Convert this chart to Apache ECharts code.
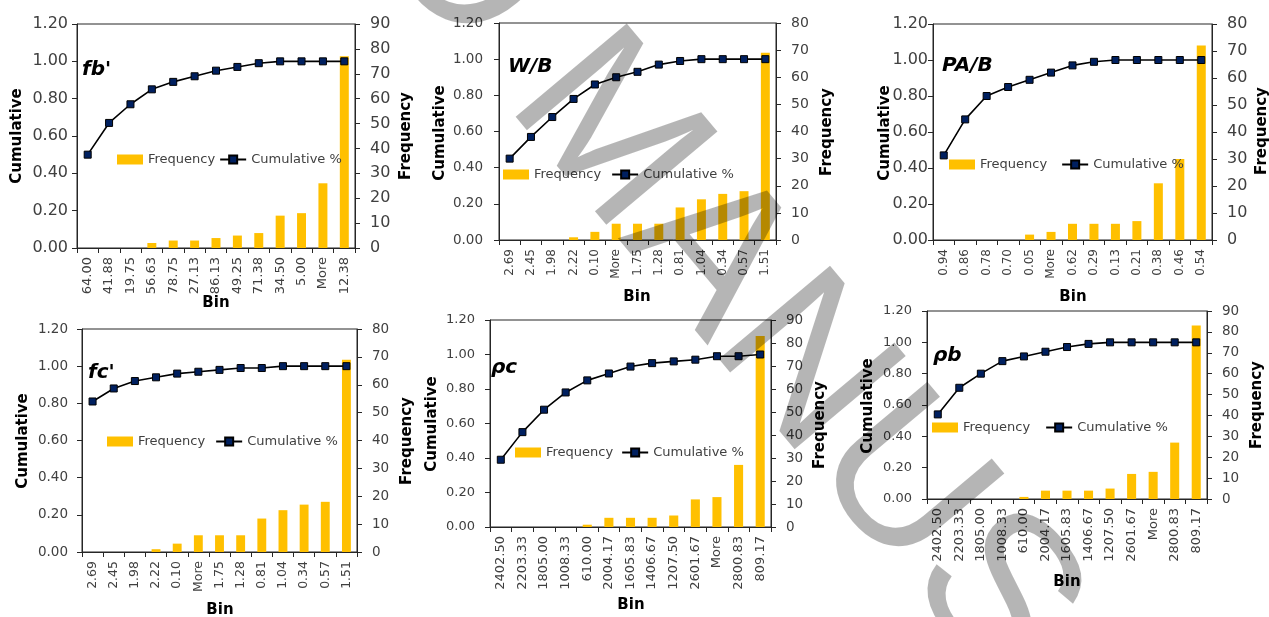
<!DOCTYPE html>
<html><head><meta charset="utf-8">
<script src="https://cdn.jsdelivr.net/npm/echarts@6/dist/echarts.min.js"></script>
<style>html,body{margin:0;padding:0;background:#fff}#c{width:1269px;height:617px}</style>
</head><body><div id="c"></div>
<script>
// ---------- data ----------
const panelTitles = ["fb'", "W/B", "PA/B", "fc'", "ρc", "ρb"];

const binsFb = ["64.00","41.88","19.75","56.63","78.75","27.13","86.13","49.25","71.38","34.50","5.00","More","12.38"];
const binsWB = ["2.69","2.45","1.98","2.22","0.10","More","1.75","1.28","0.81","1.04","0.34","0.57","1.51"];
const binsPAB = ["0.94","0.86","0.78","0.70","0.05","More","0.62","0.29","0.13","0.21","0.38","0.46","0.54"];
const binsFc = ["2.69","2.45","1.98","2.22","0.10","More","1.75","1.28","0.81","1.04","0.34","0.57","1.51"];
const binsRhoC = ["2402.50","2203.33","1805.00","1008.33","610.00","2004.17","1605.83","1406.67","1207.50","2601.67","More","2800.83","809.17"];
const binsRhoB = ["2402.50","2203.33","1805.00","1008.33","610.00","2004.17","1605.83","1406.67","1207.50","2601.67","More","2800.83","809.17"];

const freqFb = [0,0,0,2,3,3,4,5,6,13,14,26,77];
const cumFb = [0.50,0.67,0.77,0.85,0.89,0.92,0.95,0.97,0.99,1.00,1.00,1.00,1.00];
const freqWB = [0,0,0,1,3,6,6,6,12,15,17,18,69];
const cumWB = [0.45,0.57,0.68,0.78,0.86,0.90,0.93,0.97,0.99,1.00,1.00,1.00,1.00];
const freqPAB = [0,0,0,0,2,3,6,6,6,7,21,30,72];
const cumPAB = [0.47,0.67,0.80,0.85,0.89,0.93,0.97,0.99,1.00,1.00,1.00,1.00,1.00];
const freqFc = [0,0,0,1,3,6,6,6,12,15,17,18,69];
const cumFc = [0.81,0.88,0.92,0.94,0.96,0.97,0.98,0.99,0.99,1.00,1.00,1.00,1.00];
const freqRhoC = [0,0,0,0,1,4,4,4,5,12,13,27,83];
const cumRhoC = [0.39,0.55,0.68,0.78,0.85,0.89,0.93,0.95,0.96,0.97,0.99,0.99,1.00];
const freqRhoB = [0,0,0,0,1,4,4,4,5,12,13,27,83];
const cumRhoB = [0.54,0.71,0.80,0.88,0.91,0.94,0.97,0.99,1.00,1.00,1.00,1.00,1.00];

const freqAxisMax = [90, 80, 80, 80, 90, 90];
const cumTicks = ["0.00","0.20","0.40","0.60","0.80","1.00","1.20"];
const seriesNames = ["Frequency", "Cumulative %"];
const axisTitles = ["Cumulative", "Frequency", "Bin"];
const watermarkWords = ["ACCEPTED", "MANUSCRIPT"];

// ---------- layout ----------
const bins = [binsFb, binsWB, binsPAB, binsFc, binsRhoC, binsRhoB];
const freqs = [freqFb, freqWB, freqPAB, freqFc, freqRhoC, freqRhoB];
const cums = [cumFb, cumWB, cumPAB, cumFc, cumRhoC, cumRhoB];

const L = [
 {g:[77,24,278,224],  yF:16,   yM:9,  rF:16,  xF:13,   lg:[117,153,4],  t:[82,70],  c:[17,136],  f:[406,136], b:[216,303]},
 {g:[499,23,277,217], yF:13.5, yM:16, rF:14,  xF:12,   lg:[503,168,10], t:[508,67], c:[440,133], f:[827,132], b:[637,297]},
 {g:[933,24,279,216], yF:16,   yM:5,  rF:16,  xF:12,   lg:[949,158,14], t:[942,66], c:[885,133], f:[1262,131], b:[1073,297]},
 {g:[82,329,275,223], yF:13.5, yM:14, rF:13.5,xF:12.5, lg:[107,435,10], t:[88,373], c:[23,441], f:[407,441], b:[220,610]},
 {g:[490,320,281,207],yF:13,   yM:15, rF:13.5,xF:13,   lg:[515,446,8],  t:[491,368], c:[432,424], f:[820,425], b:[631,605]},
 {g:[927,311,280,188],yF:13,   yM:15, rF:13.5,xF:13,   lg:[932,421,15], t:[933,356], c:[868,406], f:[1257,405], b:[1067,582]}
];

const FONT = '"DejaVu Sans", sans-serif';
const AX = '#262626';
const LBL = '#404040';

const grid = [], xAxis = [], yAxis = [], series = [], legend = [], graphic = [];
L.forEach((p, i) => {
  grid.push({left:p.g[0], top:p.g[1], width:p.g[2], height:p.g[3], show:true,
    borderColor:AX, borderWidth:1, backgroundColor:'transparent'});
  xAxis.push({type:'category', gridIndex:i, data:bins[i], boundaryGap:true,
    axisLine:{show:true, lineStyle:{color:AX, width:1}},
    axisTick:{show:true, length:5, interval:0, alignWithLabel:false, lineStyle:{color:AX}},
    axisLabel:{interval:0, rotate:90, margin:9, fontSize:p.xF, color:LBL, fontFamily:FONT},
    splitLine:{show:false}});
  yAxis.push({type:'value', gridIndex:i, position:'left', min:0, max:1.2, interval:0.2,
    axisLine:{show:true, lineStyle:{color:AX, width:1}},
    axisTick:{show:true, length:5, lineStyle:{color:AX}},
    splitLine:{show:false},
    axisLabel:{formatter:(v)=>cumTicks[Math.round(v/0.2)], margin:p.yM, fontSize:p.yF, color:LBL, fontFamily:FONT}});
  yAxis.push({type:'value', gridIndex:i, position:'right', min:0, max:freqAxisMax[i], interval:10,
    axisLine:{show:true, lineStyle:{color:AX, width:1}},
    axisTick:{show:true, length:5, lineStyle:{color:AX}},
    splitLine:{show:false},
    axisLabel:{margin:15, fontSize:p.rF, color:LBL, fontFamily:FONT}});
  series.push({type:'bar', name:seriesNames[0], xAxisIndex:i, yAxisIndex:2*i+1, data:freqs[i],
    barWidth:'42%', itemStyle:{color:'#FFC000'}, z:2});
  series.push({type:'line', name:seriesNames[1], xAxisIndex:i, yAxisIndex:2*i, data:cums[i],
    symbol:'rect', symbolSize:7, showAllSymbol:true,
    lineStyle:{color:'#000', width:1.6},
    itemStyle:{color:'#002060', borderColor:'#000', borderWidth:1}, z:3});
  legend.push({left:p.lg[0], top:p.lg[1], padding:0, itemGap:p.lg[2], itemWidth:26, itemHeight:10,
    orient:'horizontal', selectedMode:false,
    data:[{name:seriesNames[0], icon:'rect'}, {name:seriesNames[1]}],
    textStyle:{fontSize:13, color:LBL, fontFamily:FONT}});
  graphic.push({type:'text', x:p.t[0], y:p.t[1], z:50,
    style:{text:panelTitles[i], font:'italic bold 20px ' + FONT, fill:'#000', textAlign:'left', textVerticalAlign:'middle'}});
  graphic.push({type:'text', x:p.c[0], y:p.c[1], rotation:Math.PI/2, z:50,
    style:{text:axisTitles[0], font:'bold 15px ' + FONT, fill:'#000', textAlign:'center', textVerticalAlign:'middle'}});
  graphic.push({type:'text', x:p.f[0], y:p.f[1], rotation:Math.PI/2, z:50,
    style:{text:axisTitles[1], font:'bold 15px ' + FONT, fill:'#000', textAlign:'center', textVerticalAlign:'middle'}});
  graphic.push({type:'text', x:p.b[0], y:p.b[1], z:50,
    style:{text:axisTitles[2], font:'bold 15px ' + FONT, fill:'#000', textAlign:'center', textVerticalAlign:'middle'}});
});

// watermark
const wmSize = 211, wmRot = -50 * Math.PI / 180;
const wmFont = wmSize + 'px "Liberation Sans", Arial, sans-serif';
graphic.push({type:'text', x:493, y:113, rotation:wmRot, z:100, silent:true,
  style:{text:watermarkWords[1], x:0, y:-0.3465*wmSize, font:wmFont, fill:'rgba(0,0,0,0.29)', textAlign:'left', textVerticalAlign:'middle'}});
graphic.push({type:'text', x:493, y:113, rotation:wmRot, z:100, silent:true,
  style:{text:watermarkWords[0], x:-0.278*wmSize, y:-0.3465*wmSize, font:wmFont, fill:'rgba(0,0,0,0.29)', textAlign:'right', textVerticalAlign:'middle'}});

const chart = echarts.init(document.getElementById('c'), null, {renderer:'canvas'});
chart.setOption({animation:false, backgroundColor:'#fff', grid, xAxis, yAxis, series, legend, graphic});
</script>
</body></html>
